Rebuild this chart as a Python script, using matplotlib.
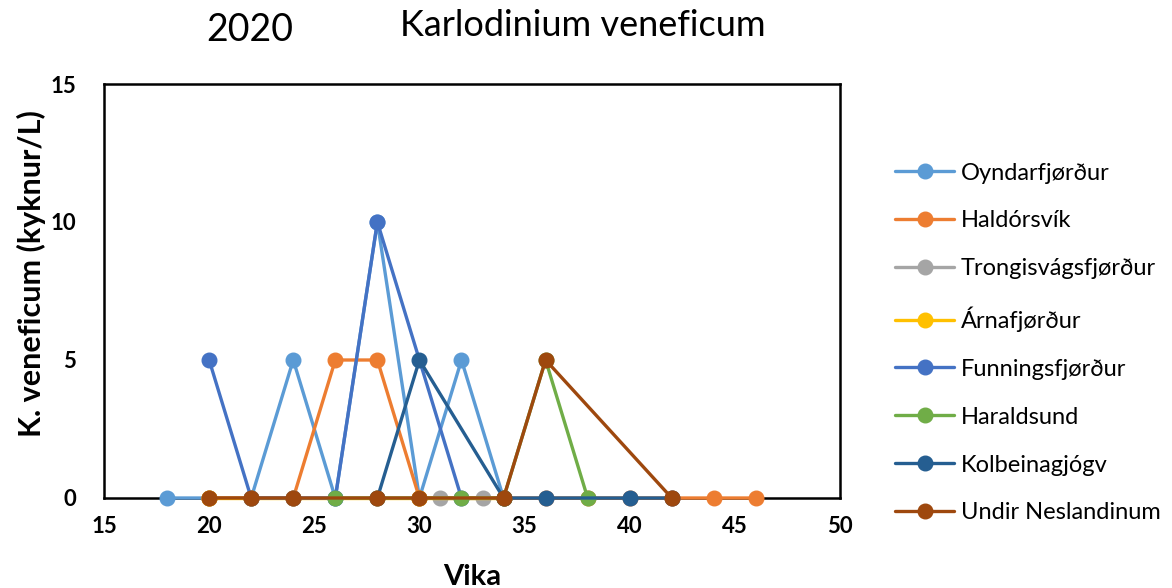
import matplotlib
matplotlib.use("Agg")
import matplotlib.pyplot as plt

plt.rcParams['font.family'] = ['Lato', 'DejaVu Sans']

series_names = ["Oyndarfjørður", "Haldórsvík", "Trongisvágsfjørður", "Árnafjørður",
                "Funningsfjørður", "Haraldsund", "Kolbeinagjógv", "Undir Neslandinum"]
colors = ["#5B9BD5", "#ED7D31", "#A5A5A5", "#FFC000",
          "#4472C4", "#70AD47", "#255E91", "#9E480E"]

oyndar_weeks = [18, 20, 22, 24, 26, 28, 30, 32, 34]
oyndar_vals = [0, 0, 0, 5, 0, 10, 0, 5, 0]
haldor_weeks = [20, 22, 24, 26, 28, 30, 34, 36, 38, 40, 42, 44, 46]
haldor_vals = [0, 0, 0, 5, 5, 0, 0, 0, 0, 0, 0, 0, 0]
trong_weeks = [31, 33]
trong_vals = [0, 0]
arna_weeks = [20, 22, 24, 28, 30, 34]
arna_vals = [0, 0, 0, 0, 0, 0]
funn_weeks = [20, 22, 24, 26, 28, 32]
funn_vals = [5, 0, 0, 0, 10, 0]
harald_weeks = [26, 32, 34, 36, 38]
harald_vals = [0, 0, 0, 5, 0]
kolb_weeks = [28, 30, 34, 36, 40, 42]
kolb_vals = [0, 5, 0, 0, 0, 0]
undir_weeks = [20, 22, 24, 28, 30, 34, 36, 42]
undir_vals = [0, 0, 0, 0, 0, 0, 5, 0]

all_weeks = [oyndar_weeks, haldor_weeks, trong_weeks, arna_weeks,
             funn_weeks, harald_weeks, kolb_weeks, undir_weeks]
all_vals = [oyndar_vals, haldor_vals, trong_vals, arna_vals,
            funn_vals, harald_vals, kolb_vals, undir_vals]

x_ticks = [15, 20, 25, 30, 35, 40, 45, 50]
y_ticks = [0, 5, 10, 15]

fig = plt.figure(figsize=(11.72, 5.88), dpi=100)
ax = fig.add_axes([104/1172, 1-498/588, 736/1172, 414/588])

for name, c, w, v in zip(series_names, colors, all_weeks, all_vals):
    ax.plot(w, v, color=c, lw=2.4, marker='o', markersize=10.5, label=name,
            solid_capstyle='round', zorder=3, clip_on=False)

ax.set_xlim(15, 50)
ax.set_ylim(0, 15)
ax.set_xticks(x_ticks)
ax.set_yticks(y_ticks)
ax.tick_params(axis='x', length=0, pad=13, labelsize=16)
ax.tick_params(axis='y', length=0, pad=20, labelsize=16)
for lab in ax.get_xticklabels() + ax.get_yticklabels():
    lab.set_fontweight('bold')
for s in ax.spines.values():
    s.set_color('black')
    s.set_linewidth(1.8)

ax.set_xlabel("Vika", fontsize=21, fontweight='bold')
ax.xaxis.set_label_coords(0.5, (498-577)/414)
ax.xaxis.label.set_va('center')
ax.set_ylabel("K. veneficum (kyknur/L)", fontsize=22, fontweight='bold')
ax.yaxis.set_label_coords((31-104)/736, (498-274)/414)
ax.yaxis.label.set_va('center')

fig.text(250/1172, 1-30/588, "2020", fontsize=27, ha='center', va='center')
fig.text(583/1172, 1-25/588, "Karlodinium veneficum", fontsize=26, ha='center', va='center')

fig.legend(loc='center left', bbox_to_anchor=(895/1172, 1-343/588), frameon=False,
           fontsize=17, handlelength=2.5, labelspacing=1.14, borderpad=0,
           borderaxespad=0, handletextpad=0.3, markerscale=1.0)

fig.savefig("out.png", dpi=100)
